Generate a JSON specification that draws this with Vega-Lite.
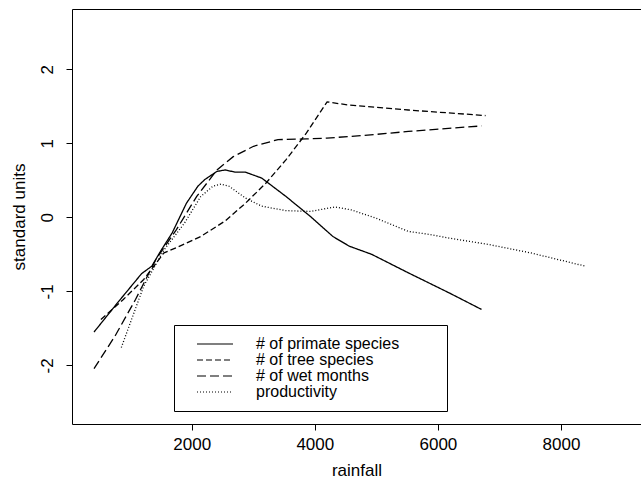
{
  "$schema": "https://vega.github.io/schema/vega-lite/v6.json",
  "width": 569,
  "height": 415,
  "autosize": {"type": "none"},
  "padding": {"left": 72, "top": 9, "right": 0, "bottom": 67},
  "background": "white",
  "config": {
    "view": {"stroke": null},
    "font": "Liberation Sans",
    "axis": {
      "grid": false,
      "domainColor": "black",
      "tickColor": "black",
      "labelColor": "black",
      "titleColor": "black",
      "labelFontSize": 17,
      "titleFontSize": 17,
      "titleFontWeight": "normal",
      "tickSize": 6,
      "labelFlush": false,
      "labelOverlap": false
    }
  },
  "data": {
    "values": [
      {"series": "# of primate species", "rainfall": 413, "value": -1.55},
      {"series": "# of primate species", "rainfall": 800, "value": -1.15},
      {"series": "# of primate species", "rainfall": 1187, "value": -0.76},
      {"series": "# of primate species", "rainfall": 1352, "value": -0.66},
      {"series": "# of primate species", "rainfall": 1500, "value": -0.45},
      {"series": "# of primate species", "rainfall": 1683, "value": -0.21},
      {"series": "# of primate species", "rainfall": 1914, "value": 0.19},
      {"series": "# of primate species", "rainfall": 2100, "value": 0.42},
      {"series": "# of primate species", "rainfall": 2212, "value": 0.51},
      {"series": "# of primate species", "rainfall": 2410, "value": 0.62},
      {"series": "# of primate species", "rainfall": 2542, "value": 0.64},
      {"series": "# of primate species", "rainfall": 2708, "value": 0.61},
      {"series": "# of primate species", "rainfall": 2873, "value": 0.61},
      {"series": "# of primate species", "rainfall": 3138, "value": 0.53},
      {"series": "# of primate species", "rainfall": 3534, "value": 0.28},
      {"series": "# of primate species", "rainfall": 3931, "value": 0.01},
      {"series": "# of primate species", "rainfall": 4295, "value": -0.26},
      {"series": "# of primate species", "rainfall": 4560, "value": -0.39},
      {"series": "# of primate species", "rainfall": 4923, "value": -0.5},
      {"series": "# of primate species", "rainfall": 5519, "value": -0.75},
      {"series": "# of primate species", "rainfall": 6180, "value": -1.02},
      {"series": "# of primate species", "rainfall": 6709, "value": -1.245},
      {"series": "# of tree species", "rainfall": 525, "value": -1.38},
      {"series": "# of tree species", "rainfall": 889, "value": -1.11},
      {"series": "# of tree species", "rainfall": 1220, "value": -0.84},
      {"series": "# of tree species", "rainfall": 1550, "value": -0.48},
      {"series": "# of tree species", "rainfall": 1749, "value": -0.41},
      {"series": "# of tree species", "rainfall": 2146, "value": -0.26},
      {"series": "# of tree species", "rainfall": 2542, "value": -0.05},
      {"series": "# of tree species", "rainfall": 2873, "value": 0.19},
      {"series": "# of tree species", "rainfall": 3204, "value": 0.46},
      {"series": "# of tree species", "rainfall": 3534, "value": 0.78},
      {"series": "# of tree species", "rainfall": 3865, "value": 1.14},
      {"series": "# of tree species", "rainfall": 4200, "value": 1.56},
      {"series": "# of tree species", "rainfall": 4526, "value": 1.52},
      {"series": "# of tree species", "rainfall": 5519, "value": 1.45},
      {"series": "# of tree species", "rainfall": 6775, "value": 1.375},
      {"series": "# of wet months", "rainfall": 413, "value": -2.045},
      {"series": "# of wet months", "rainfall": 757, "value": -1.6},
      {"series": "# of wet months", "rainfall": 1087, "value": -1.11},
      {"series": "# of wet months", "rainfall": 1418, "value": -0.57},
      {"series": "# of wet months", "rainfall": 1749, "value": -0.17},
      {"series": "# of wet months", "rainfall": 2079, "value": 0.28},
      {"series": "# of wet months", "rainfall": 2410, "value": 0.64},
      {"series": "# of wet months", "rainfall": 2675, "value": 0.82},
      {"series": "# of wet months", "rainfall": 3005, "value": 0.96},
      {"series": "# of wet months", "rainfall": 3402, "value": 1.05},
      {"series": "# of wet months", "rainfall": 3865, "value": 1.06},
      {"series": "# of wet months", "rainfall": 4196, "value": 1.07},
      {"series": "# of wet months", "rainfall": 4857, "value": 1.11},
      {"series": "# of wet months", "rainfall": 5519, "value": 1.16},
      {"series": "# of wet months", "rainfall": 6709, "value": 1.235},
      {"series": "productivity", "rainfall": 856, "value": -1.76},
      {"series": "productivity", "rainfall": 1220, "value": -0.93},
      {"series": "productivity", "rainfall": 1550, "value": -0.44},
      {"series": "productivity", "rainfall": 1881, "value": -0.08},
      {"series": "productivity", "rainfall": 2146, "value": 0.28},
      {"series": "productivity", "rainfall": 2344, "value": 0.42},
      {"series": "productivity", "rainfall": 2476, "value": 0.45},
      {"series": "productivity", "rainfall": 2608, "value": 0.42},
      {"series": "productivity", "rainfall": 2873, "value": 0.26},
      {"series": "productivity", "rainfall": 3138, "value": 0.15},
      {"series": "productivity", "rainfall": 3534, "value": 0.09},
      {"series": "productivity", "rainfall": 3931, "value": 0.08},
      {"series": "productivity", "rainfall": 4328, "value": 0.14},
      {"series": "productivity", "rainfall": 4593, "value": 0.1},
      {"series": "productivity", "rainfall": 4989, "value": -0.01},
      {"series": "productivity", "rainfall": 5519, "value": -0.19},
      {"series": "productivity", "rainfall": 5849, "value": -0.23},
      {"series": "productivity", "rainfall": 6180, "value": -0.28},
      {"series": "productivity", "rainfall": 6841, "value": -0.37},
      {"series": "productivity", "rainfall": 7503, "value": -0.48},
      {"series": "productivity", "rainfall": 8396, "value": -0.66}
    ]
  },
  "layer": [
    {
      "mark": {"type": "line", "color": "black", "strokeWidth": 1.3, "interpolate": "linear"},
      "encoding": {
        "x": {
          "field": "rainfall",
          "type": "quantitative",
          "scale": {"domain": [55, 9300], "nice": false, "zero": false},
          "axis": {
            "title": "rainfall",
            "values": [2000, 4000, 6000, 8000],
            "labelExpr": "'' + datum.value",
            "labelPadding": 6,
            "titlePadding": 10
          }
        },
        "y": {
          "field": "value",
          "type": "quantitative",
          "scale": {"domain": [-2.793, 2.815], "nice": false, "zero": false},
          "axis": {
            "title": "standard units",
            "values": [-2, -1, 0, 1, 2],
            "labelExpr": "'' + datum.value",
            "labelAngle": -90,
            "labelAlign": "center",
            "labelBaseline": "bottom",
            "labelPadding": 10,
            "titlePadding": 10
          }
        },
        "strokeDash": {
          "field": "series",
          "type": "nominal",
          "scale": {
            "domain": ["# of primate species", "# of tree species", "# of wet months", "productivity"],
            "range": [[1, 0], [6, 3], [9, 4], [1, 2]]
          },
          "legend": {
            "orient": "none",
            "legendX": 102,
            "legendY": 316,
            "title": null,
            "symbolType": "M-4.5,0H4.5",
            "symbolSize": 64,
            "symbolOffset": 22,
            "symbolStrokeColor": "black",
            "symbolStrokeWidth": 1.2,
            "labelOffset": 33,
            "labelFontSize": 16,
            "labelColor": "black",
            "labelLimit": 0,
            "labelExpr": "datum.label + '\u2800\u2800\u2800'",
            "padding": 11,
            "rowPadding": 0,
            "strokeColor": "black",
            "fillColor": "white"
          }
        }
      }
    },
    {
      "mark": {"type": "point", "opacity": 0},
      "encoding": {
        "x": {
          "field": "rainfall",
          "type": "quantitative",
          "scale": {"domain": [55, 9300], "nice": false, "zero": false},
          "axis": {"orient": "top", "labels": false, "ticks": false, "title": null, "domain": true}
        }
      }
    }
  ],
  "resolve": {"axis": {"x": "independent"}}
}
